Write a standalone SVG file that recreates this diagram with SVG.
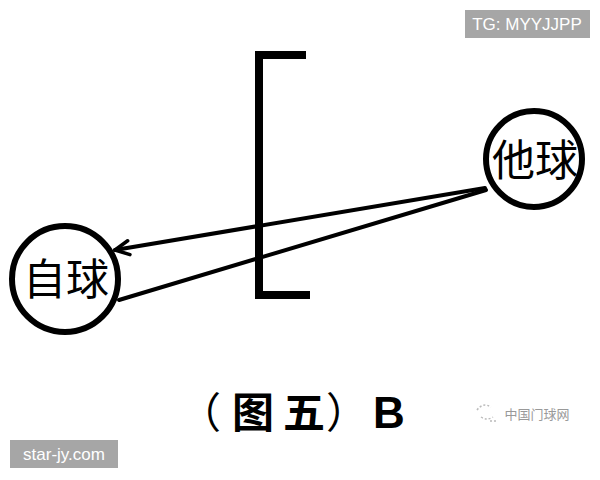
<svg xmlns="http://www.w3.org/2000/svg" width="600" height="480" viewBox="0 0 600 480">
<style>
.ball{fill:#fff;stroke:#000;stroke-width:6}
.lbl{font-family:"Noto Sans CJK SC","Noto Sans",sans-serif;font-size:43px;fill:#000;text-anchor:middle}
.ln{stroke:#000;stroke-width:4;fill:none;stroke-linecap:round}
.wm{fill:#a6a6a6}
.wmt{font-family:"Liberation Sans",Arial,sans-serif;font-size:17px;fill:#fff;text-anchor:middle}
.cap{font-family:"Noto Sans CJK SC",sans-serif;font-size:42px;font-weight:bold;fill:#000;text-anchor:middle}
</style>
<defs>
<marker id="arr" viewBox="0 0 24 20" refX="20" refY="10" markerWidth="24" markerHeight="20" markerUnits="userSpaceOnUse" orient="auto">
<path d="M6,3 L20,10 L6,17" fill="none" stroke="#000" stroke-width="3.5" stroke-linecap="round" stroke-linejoin="round"/>
</marker>
</defs>
<rect width="600" height="480" fill="#fff"/>
<g id="wall">
<path d="M306,55 H259 V295 H310" fill="none" stroke="#000" stroke-width="8"/>
</g>
<g id="taqiu">
<circle class="ball" cx="534" cy="159" r="48"/>
<text class="lbl" x="535" y="176">他球</text>
</g>
<g id="ziqiu">
<circle class="ball" cx="65" cy="279" r="53"/>
<text class="lbl" x="66" y="295">自球</text>
</g>
<g id="connectors">
<line class="ln" x1="485" y1="188" x2="115" y2="250" marker-end="url(#arr)"/>
<line class="ln" x1="486" y1="190" x2="119" y2="300"/>
</g>
<g id="caption">
<text class="cap" y="428"><tspan x="200" font-weight="normal">（</tspan><tspan x="253">图</tspan><tspan x="304">五</tspan><tspan x="347" font-weight="normal">）</tspan></text>
<text x="389" y="428" font-family="'Liberation Sans',Arial,sans-serif" font-size="44" font-weight="bold" fill="#000" text-anchor="middle">B</text>
</g>
<g id="wm-top">
<rect class="wm" x="465" y="10" width="125" height="28"/>
<text class="wmt" x="527" y="30">TG: MYYJJPP</text>
</g>
<g id="wm-bottom">
<rect class="wm" x="10" y="440" width="108" height="28"/>
<text class="wmt" x="64" y="460">star-jy.com</text>
</g>
<g id="wm-logo">
<path d="M477,410 q6,-8 14,-3 M481,417 q6,4 12,0 M490,421 h7" fill="none" stroke="#bbb" stroke-width="1.5" stroke-dasharray="2,2"/>
<text x="537" y="419" font-family="'Noto Sans CJK SC',sans-serif" font-size="13" fill="#999" text-anchor="middle">中国门球网</text>
</g>
</svg>
